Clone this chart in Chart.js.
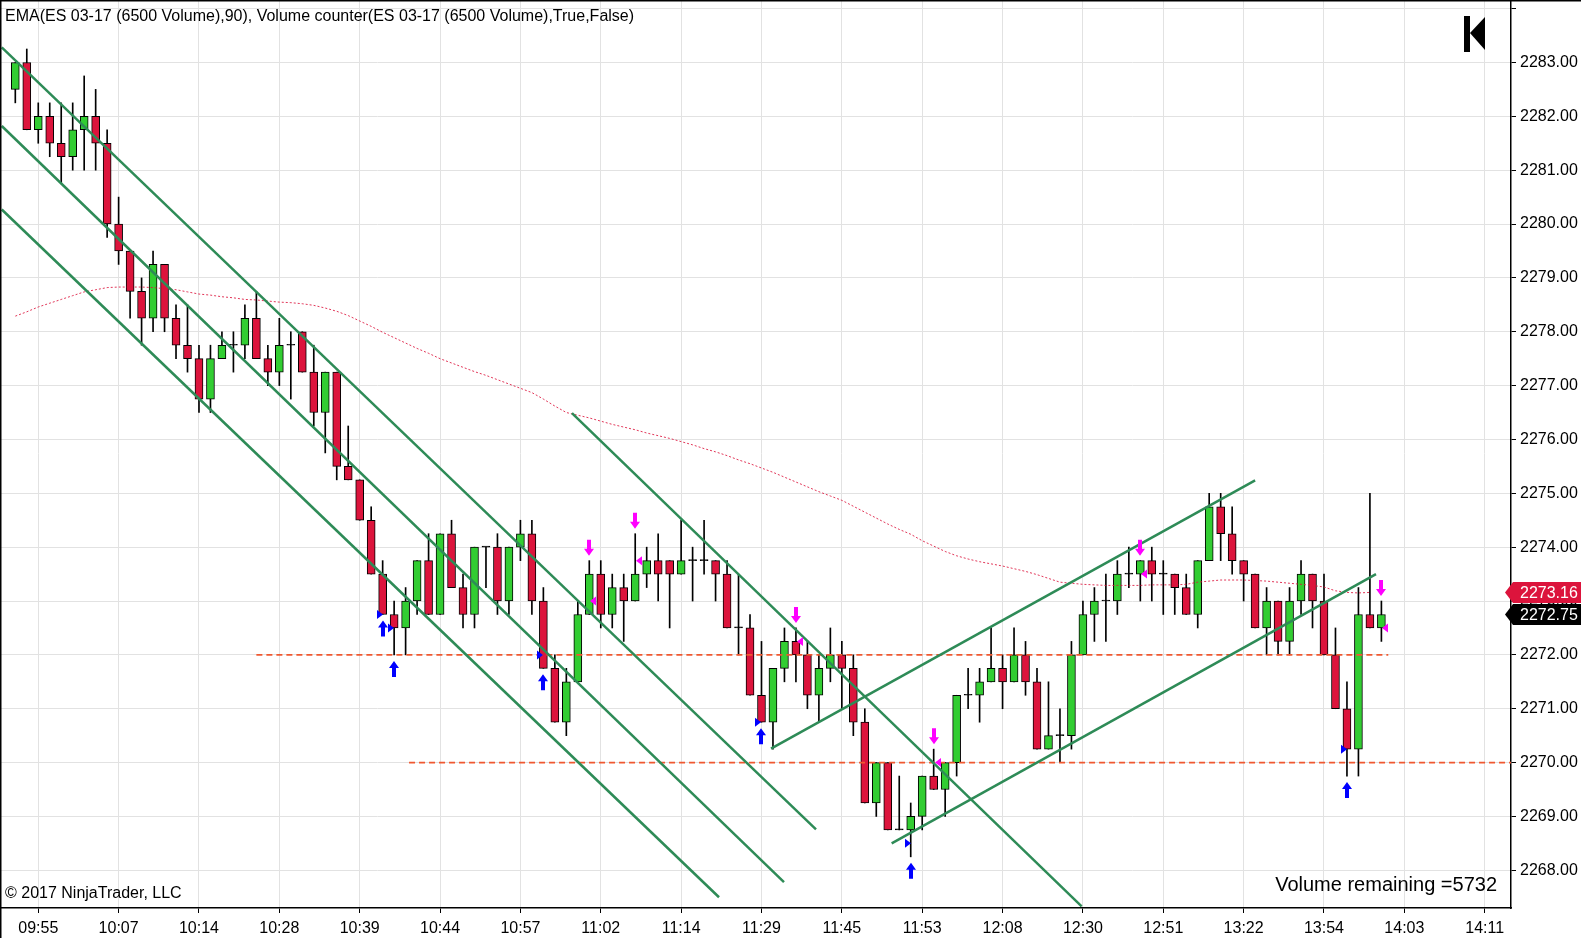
<!DOCTYPE html>
<html>
<head>
<meta charset="utf-8">
<title>ES 03-17 (6500 Volume)</title>
<script src="https://cdn.jsdelivr.net/npm/chart.js@4.4.0/dist/chart.umd.min.js"></script>
<style>
  html, body { margin: 0; padding: 0; background: #fff; }
  #wrap { width: 1581px; height: 938px; position: relative; }
</style>
</head>
<body>
<div id="wrap"><canvas id="priceChart"></canvas></div>
<script>
// bar data, one entry per 6500-volume bar
const opens = [2282.5, 2283, 2281.75, 2282, 2281.5, 2281.25, 2281.75, 2282, 2281.5, 2280,
  2279.5, 2278.75, 2278.25, 2279.25, 2278.25, 2277.75, 2277.5, 2276.75, 2277.5, 2277.75,
  2277.75, 2278.25, 2277.5, 2277.25, 2277.75, 2278, 2277.25, 2276.5, 2277.25, 2275.5,
  2275.25, 2274.5, 2273.5, 2272.75, 2272.5, 2273, 2273.75, 2272.75, 2274.25, 2273.25,
  2272.75, 2274, 2274, 2273, 2274, 2274.25, 2273, 2271.75, 2270.75, 2271.5,
  2272.75, 2273.5, 2272.75, 2273.25, 2273, 2273.5, 2273.75, 2273.75, 2273.5, 2273.75,
  2273.75, 2273.75, 2273.5, 2272.5, 2272.5, 2271.25, 2270.75, 2271.75, 2272.25, 2272,
  2271.25, 2271.75, 2272, 2271.75, 2270.75, 2269.25, 2270, 2268.75, 2268.75, 2269,
  2269.75, 2269.5, 2270, 2271.25, 2271.25, 2271.5, 2271.75, 2271.5, 2272, 2271.5,
  2270.25, 2270.5, 2270.5, 2272, 2272.75, 2273, 2273, 2273.5, 2273.5, 2273.75,
  2273.5, 2273.5, 2273.25, 2272.75, 2273.75, 2274.75, 2274.25, 2273.75, 2273.5, 2272.5,
  2273, 2272.25, 2273, 2273.5, 2273, 2272, 2271, 2270.25, 2272.75, 2272.5];
const highs = [2283, 2283.25, 2282.25, 2282.25, 2282.25, 2282.25, 2282.75, 2282.5, 2281.75, 2280.5,
  2279.5, 2279, 2279.5, 2279.25, 2278.5, 2278.5, 2277.75, 2277.75, 2278, 2278,
  2278.5, 2278.75, 2277.75, 2278.25, 2278, 2278, 2277.75, 2277.25, 2277.25, 2276.25,
  2275.25, 2274.75, 2273.75, 2273, 2273.25, 2273.75, 2274.25, 2274.25, 2274.5, 2273.5,
  2274, 2274, 2274.25, 2274, 2274.5, 2274.5, 2273.25, 2272, 2271.75, 2273,
  2273.75, 2273.75, 2273.5, 2273.5, 2274.25, 2274, 2274.25, 2273.75, 2274.5, 2274,
  2274.5, 2273.75, 2273.75, 2273.5, 2272.75, 2272.25, 2271.75, 2272.5, 2272.5, 2272.25,
  2272, 2272.5, 2272.25, 2272, 2271, 2270, 2270, 2269.75, 2269.25, 2269.75,
  2270.25, 2270, 2271.25, 2271.75, 2271.75, 2272.5, 2272, 2272.5, 2272.25, 2271.75,
  2271.5, 2271, 2272.25, 2273, 2273.25, 2273.5, 2273.75, 2274, 2273.75, 2274,
  2273.75, 2273.5, 2273.5, 2273.75, 2275, 2275, 2274.75, 2273.75, 2273.5, 2273.25,
  2273, 2273.25, 2273.75, 2273.5, 2273.5, 2272.5, 2271.5, 2273.25, 2275, 2273];
const lows = [2282.25, 2281.75, 2281.5, 2281.25, 2280.75, 2281, 2281, 2281, 2279.75, 2279.25,
  2278.25, 2277.75, 2278, 2278, 2277.5, 2277.25, 2276.5, 2276.5, 2277.5, 2277.25,
  2277.5, 2277.5, 2277, 2277, 2276.75, 2277.25, 2276.25, 2275.75, 2275.25, 2275.25,
  2274.5, 2273.5, 2272.75, 2272, 2272, 2272.75, 2272.75, 2272.75, 2273.25, 2272.5,
  2272.5, 2273.25, 2272.75, 2272.75, 2273.75, 2272.75, 2271.75, 2270.75, 2270.5, 2271.5,
  2272.75, 2272.5, 2272.5, 2272.25, 2273, 2273.25, 2273, 2272.5, 2273.5, 2273,
  2273.5, 2273, 2272.5, 2272, 2271.25, 2270.75, 2270.25, 2271.5, 2271.5, 2271,
  2270.75, 2271.5, 2271, 2270.5, 2269.25, 2269, 2268.75, 2268.75, 2268.25, 2268.75,
  2269.5, 2269, 2269.75, 2271, 2270.75, 2271.5, 2271, 2271.5, 2271.25, 2270.25,
  2270.25, 2270, 2270.25, 2272, 2272.25, 2272.25, 2272.75, 2273.25, 2273, 2273,
  2272.75, 2272.75, 2272.75, 2272.5, 2273.75, 2273.75, 2273.5, 2273, 2272.5, 2272,
  2272, 2272, 2272.75, 2272.5, 2272, 2271, 2269.75, 2269.75, 2272.5, 2272.25];
const closes = [2283, 2281.75, 2282, 2281.5, 2281.25, 2281.75, 2282, 2281.5, 2280, 2279.5,
  2278.75, 2278.25, 2279.25, 2278.25, 2277.75, 2277.5, 2276.75, 2277.5, 2277.75, 2277.75,
  2278.25, 2277.5, 2277.25, 2277.75, 2277.75, 2277.25, 2276.5, 2277.25, 2275.5, 2275.25,
  2274.5, 2273.5, 2272.75, 2272.5, 2273, 2273.75, 2272.75, 2274.25, 2273.25, 2272.75,
  2274, 2274, 2273, 2274, 2274.25, 2273, 2271.75, 2270.75, 2271.5, 2272.75,
  2273.5, 2272.75, 2273.25, 2273, 2273.5, 2273.75, 2273.5, 2273.5, 2273.75, 2273.75,
  2273.75, 2273.5, 2272.5, 2272.5, 2271.25, 2270.75, 2271.75, 2272.25, 2272, 2271.25,
  2271.75, 2272, 2271.75, 2270.75, 2269.25, 2270, 2268.75, 2268.75, 2269, 2269.75,
  2269.5, 2270, 2271.25, 2271.25, 2271.5, 2271.75, 2271.5, 2272, 2271.5, 2270.25,
  2270.5, 2270.5, 2272, 2272.75, 2273, 2273, 2273.5, 2273.5, 2273.75, 2273.5,
  2273.5, 2273.25, 2272.75, 2273.75, 2274.75, 2274.25, 2273.75, 2273.5, 2272.5, 2273,
  2272.25, 2273, 2273.5, 2273, 2272, 2271, 2270.25, 2272.75, 2272.5, 2272.75];

// EMA(90), bars 0..118
const ema = [2278.29, 2278.37, 2278.46, 2278.53, 2278.60, 2278.67, 2278.74, 2278.78, 2278.82, 2278.83,
  2278.83, 2278.83, 2278.82, 2278.80, 2278.78, 2278.74, 2278.70, 2278.68, 2278.65, 2278.63,
  2278.60, 2278.59, 2278.57, 2278.55, 2278.54, 2278.52, 2278.49, 2278.44, 2278.38, 2278.30,
  2278.20, 2278.10, 2277.99, 2277.89, 2277.79, 2277.69, 2277.60, 2277.50, 2277.42, 2277.34,
  2277.26, 2277.19, 2277.11, 2277.03, 2276.95, 2276.87, 2276.75, 2276.62, 2276.50, 2276.45,
  2276.40, 2276.34, 2276.28, 2276.23, 2276.18, 2276.12, 2276.07, 2276.02, 2275.96, 2275.90,
  2275.83, 2275.77, 2275.70, 2275.62, 2275.55, 2275.47, 2275.39, 2275.30, 2275.21, 2275.12,
  2275.03, 2274.95, 2274.87, 2274.76, 2274.65, 2274.54, 2274.43, 2274.33, 2274.24, 2274.12,
  2274.02, 2273.92, 2273.84, 2273.78, 2273.73, 2273.69, 2273.65, 2273.60, 2273.55, 2273.49,
  2273.42, 2273.35, 2273.33, 2273.31, 2273.30, 2273.29, 2273.29, 2273.29, 2273.29, 2273.30,
  2273.30, 2273.30, 2273.31, 2273.35, 2273.37, 2273.39, 2273.39, 2273.39, 2273.38, 2273.37,
  2273.35, 2273.33, 2273.31, 2273.29, 2273.26, 2273.19, 2273.16, 2273.15, 2273.16];

// time axis: label every 7th bar
const tickBars = [2, 9, 16, 23, 30, 37, 44, 51, 58, 65, 72, 79, 86, 93, 100, 107, 114, 121, 128];
const tickTimes = ['09:55', '10:07', '10:14', '10:28', '10:39', '10:44', '10:57', '11:02', '11:14', '11:29',
  '11:45', '11:53', '12:08', '12:30', '12:51', '13:22', '13:54', '14:03', '14:11'];
const priceTopLabel = 2283;

// drawn objects: [bar1, price1, bar2, price2]
const trendLines = [
  [-1.18, 2283.28, 69.75, 2268.76],
  [-1.18, 2281.82, 66.96, 2267.78],
  [-1.18, 2280.27, 61.30, 2267.50],
  [48.49, 2276.49, 92.89, 2267.33],
  [65.83, 2270.26, 108.0, 2275.24],
  [76.34, 2268.50, 118.53, 2273.50]
];
// [from bar, to bar, price]
const levels = [
  [21, 119.6, 2272],
  [34.3, 130.3, 2270]
];
// signal markers
const buyArrows = [32, 33, 46, 65, 78, 116];
const sellArrows = [50, 54, 68, 80, 98, 119];
const buyFills = [[32, 2272.75], [33, 2272.5], [46, 2272], [65, 2270.75], [78, 2268.5], [116, 2270.25]];
const sellFills = [[50, 2273], [54, 2273.75], [68, 2272.25], [80, 2270], [98, 2273.5], [119, 2272.5]];
const volumeRemaining = 5732;

const UP = 'rgb(50,205,50)';
const DOWN = 'rgb(220,20,60)';
const TREND = '#2e8b57';
const FONT = "'Liberation Sans', Arial, sans-serif";

Chart.defaults.font.family = FONT;
Chart.defaults.color = '#000';

const datasets = [];
datasets.push({
  type: 'bar',
  data: lows.map((l, i) => ({ x: i, y: [l, highs[i]] })),
  backgroundColor: '#000',
  barThickness: 1,
  grouped: false,
  order: 5
});
datasets.push({
  type: 'bar',
  data: opens.map((o, i) => ({ x: i, y: [o, closes[i]] })),
  backgroundColor: ctx => {
    const i = ctx.dataIndex;
    if (closes[i] > opens[i]) return UP;
    if (closes[i] < opens[i]) return DOWN;
    return '#000';
  },
  borderColor: '#000',
  borderWidth: 1,
  borderSkipped: false,
  barThickness: 8,
  minBarLength: 1,
  grouped: false,
  order: 4
});
datasets.push({
  type: 'line',
  data: ema.map((v, i) => ({ x: i, y: v })),
  borderColor: 'rgba(220,20,60,0.85)',
  borderWidth: 1,
  borderDash: [2, 2],
  pointRadius: 0,
  tension: 0,
  order: 3
});
levels.forEach(l => {
  datasets.push({
    type: 'line',
    data: [{ x: l[0], y: l[2] }, { x: l[1], y: l[2] }],
    borderColor: 'rgb(240,88,48)',
    borderWidth: 1.6,
    borderDash: [6, 4],
    pointRadius: 0,
    order: 2
  });
});
trendLines.forEach(t => {
  datasets.push({
    type: 'line',
    data: [{ x: t[0], y: t[1] }, { x: t[2], y: t[3] }],
    borderColor: TREND,
    borderWidth: 2.5,
    pointRadius: 0,
    order: 1
  });
});

function drawTag(ctx, area, y, text, bg, right) {
  const tip = area.right - 6, left = area.right + 2;
  ctx.fillStyle = bg;
  ctx.beginPath();
  ctx.moveTo(tip, y);
  ctx.lineTo(left, y - 10.5);
  ctx.lineTo(right, y - 10.5);
  ctx.lineTo(right, y + 10.5);
  ctx.lineTo(left, y + 10.5);
  ctx.closePath();
  ctx.fill();
  ctx.fillStyle = '#fff';
  ctx.font = '16px ' + FONT;
  ctx.textAlign = 'left';
  ctx.textBaseline = 'middle';
  ctx.fillText(text, area.right + 9, y + 1);
}

const overlay = {
  id: 'overlay',
  afterDatasetsDraw(chart) {
    const ctx = chart.ctx, x = chart.scales.x, y = chart.scales.y;
    ctx.save();
    ctx.fillStyle = '#0000ff';
    buyArrows.forEach(i => {
      const cx = Math.round(x.getPixelForValue(i));
      const top = y.getPixelForValue(lows[i]) + 6;
      ctx.beginPath();
      ctx.moveTo(cx, top);
      ctx.lineTo(cx + 5, top + 7);
      ctx.lineTo(cx + 2, top + 7);
      ctx.lineTo(cx + 2, top + 16);
      ctx.lineTo(cx - 2, top + 16);
      ctx.lineTo(cx - 2, top + 7);
      ctx.lineTo(cx - 5, top + 7);
      ctx.closePath();
      ctx.fill();
    });
    buyFills.forEach(f => {
      const cx = Math.round(x.getPixelForValue(f[0]));
      const py = y.getPixelForValue(f[1]);
      ctx.beginPath();
      ctx.moveTo(cx, py);
      ctx.lineTo(cx - 6, py - 4.5);
      ctx.lineTo(cx - 6, py + 4.5);
      ctx.closePath();
      ctx.fill();
    });
    ctx.fillStyle = '#ff00ff';
    sellArrows.forEach(i => {
      const cx = Math.round(x.getPixelForValue(i));
      const bot = y.getPixelForValue(highs[i]) - 5;
      ctx.beginPath();
      ctx.moveTo(cx, bot);
      ctx.lineTo(cx + 5, bot - 7);
      ctx.lineTo(cx + 2, bot - 7);
      ctx.lineTo(cx + 2, bot - 16);
      ctx.lineTo(cx - 2, bot - 16);
      ctx.lineTo(cx - 2, bot - 7);
      ctx.lineTo(cx - 5, bot - 7);
      ctx.closePath();
      ctx.fill();
    });
    sellFills.forEach(f => {
      const cx = Math.round(x.getPixelForValue(f[0]));
      const py = y.getPixelForValue(f[1]);
      ctx.beginPath();
      ctx.moveTo(cx + 1, py);
      ctx.lineTo(cx + 7, py - 4.5);
      ctx.lineTo(cx + 7, py + 4.5);
      ctx.closePath();
      ctx.fill();
    });
    ctx.restore();
  },
  afterDraw(chart) {
    const ctx = chart.ctx, area = chart.chartArea, y = chart.scales.y;
    ctx.save();
    // texts
    ctx.fillStyle = '#000';
    ctx.textBaseline = 'alphabetic';
    ctx.textAlign = 'left';
    ctx.font = '16px ' + FONT;
    ctx.fillText('EMA(ES 03-17 (6500 Volume),90), Volume counter(ES 03-17 (6500 Volume),True,False)', 5, 21);
    ctx.fillText('\u00a9 2017 NinjaTrader, LLC', 5, 898);
    ctx.font = '20px ' + FONT;
    ctx.textAlign = 'right';
    ctx.fillText('Volume remaining =' + volumeRemaining, area.right - 14, 891);

    // last value tags
    drawTag(ctx, area, y.getPixelForValue(ema[ema.length - 1]), ema[ema.length - 1].toFixed(2), DOWN, chart.width);
    drawTag(ctx, area, y.getPixelForValue(closes[closes.length - 1]), closes[closes.length - 1].toFixed(2), '#000', chart.width);

    // jump-to-end button
    ctx.fillStyle = '#000';
    ctx.fillRect(area.right - 47, 16, 6, 36);
    ctx.beginPath();
    ctx.moveTo(area.right - 41, 33);
    ctx.lineTo(area.right - 26, 17);
    ctx.lineTo(area.right - 26, 50);
    ctx.closePath();
    ctx.fill();

    // outer frame
    ctx.fillRect(0, 0, chart.width, 1.5);
    ctx.fillRect(0, 0, 1.5, chart.height);
    ctx.restore();
  }
};

new Chart(document.getElementById('priceChart'), {
  type: 'bar',
  data: { datasets: datasets },
  options: {
    responsive: true,
    maintainAspectRatio: false,
    animation: false,
    layout: { padding: 0 },
    plugins: { legend: { display: false }, tooltip: { enabled: false }, title: { display: false } },
    scales: {
      x: {
        type: 'linear',
        min: -1.333,
        max: 130.29,
        offset: false,
        grid: { offset: false, color: '#e2e2e2', tickLength: 5, tickColor: '#000' },
        border: { display: true, color: '#000', width: 1.5 },
        ticks: {
          includeBounds: false,
          autoSkip: false,
          maxRotation: 0,
          padding: 6,
          font: { size: 16 },
          color: '#000',
          callback: v => tickTimes[tickBars.indexOf(v)] || ''
        },
        afterBuildTicks: s => { s.ticks = tickBars.map(v => ({ value: v })); },
        afterFit: s => { s.height = 30; s.paddingLeft = 0; s.paddingRight = 0; }
      },
      y: {
        type: 'linear',
        position: 'right',
        min: 2267.30,
        max: 2284.16,
        beginAtZero: false,
        grid: { color: '#e2e2e2', tickLength: 5, tickColor: '#000' },
        border: { display: true, color: '#000', width: 1.5 },
        ticks: {
          includeBounds: false,
          stepSize: 1,
          padding: 4,
          font: { size: 16 },
          color: '#000',
          callback: v => (v > priceTopLabel ? '' : v.toFixed(2))
        },
        afterFit: s => { s.width = 70; s.paddingTop = 0; s.paddingBottom = 0; }
      }
    }
  },
  plugins: [overlay]
});
</script>
</body>
</html>
